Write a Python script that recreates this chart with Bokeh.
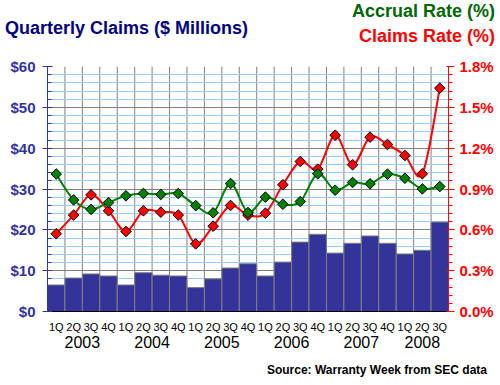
import numpy as np
from bokeh.plotting import figure
from bokeh.layouts import column
from bokeh.models import (FactorRange, Range1d, LinearAxis, SingleIntervalTicker,
                          FixedTicker, NumeralTickFormatter, PrintfTickFormatter, Div)
from bokeh.embed import file_html
from bokeh.resources import INLINE

years = ["2003"] * 4 + ["2004"] * 4 + ["2005"] * 4 + ["2006"] * 4 + ["2007"] * 4 + ["2008"] * 3
quarters = ["1Q", "2Q", "3Q", "4Q"] * 5 + ["1Q", "2Q", "3Q"]
claims = [6.5, 8.2, 9.2, 8.7, 6.5, 9.5, 8.9, 8.7, 5.85, 8.0, 10.65, 11.7,
          8.7, 12.1, 17.0, 18.9, 14.3, 16.7, 18.5, 16.7, 14.1, 15.0, 21.9]
accrual_rate = [1.01, 0.82, 0.75, 0.80, 0.85, 0.867, 0.86, 0.867, 0.778, 0.725, 0.94, 0.727,
                0.84, 0.788, 0.808, 1.012, 0.891, 0.948, 0.938, 1.009, 0.979, 0.901, 0.918]
claims_rate = [0.571, 0.708, 0.857, 0.740, 0.588, 0.740, 0.730, 0.709, 0.497, 0.627, 0.779, 0.708,
               0.722, 0.931, 1.102, 1.046, 1.295, 1.078, 1.281, 1.227, 1.146, 1.012, 1.641]

title_text = "Quarterly Claims ($ Millions)"
accrual_label = "Accrual Rate (%)"
claims_label = "Claims Rate (%)"
source_text = "Source: Warranty Week from SEC data"

factors = list(zip(years, quarters))
n = len(factors)
FONT = "Liberation Sans"
NAVY = "#333399"

p = figure(x_range=FactorRange(*factors, group_padding=0, factor_padding=0, range_padding=0),
           y_range=Range1d(0, 60), frame_width=401, frame_height=245,
           min_border_left=47, min_border_right=44, min_border_top=20, min_border_bottom=47,
           output_backend="svg", toolbar_location=None, outline_line_color=None,
           background_fill_color="white", border_fill_color="white", margin=0)
p.extra_y_ranges = {"rate": Range1d(0, 1.8)}

# grids
p.xgrid.grid_line_color = None
p.yaxis.ticker = SingleIntervalTicker(interval=10, num_minor_ticks=5)
p.ygrid.grid_line_color = "#808080"
p.ygrid.minor_grid_line_color = "#99CCFF"

# vertical grid lines at category boundaries
bounds = list(range(n + 1))
p.segment(x0=bounds, y0=[0] * len(bounds), x1=bounds, y1=[60] * len(bounds),
          line_color="#808080", line_width=1, level="underlay")

# bars
p.vbar(x=factors, top=claims, width=1, fill_color=NAVY, line_color="#808080", line_width=1)

def bezier_parts(vals):
    xs = [i + 0.5 for i in range(len(vals))]
    m = len(vals)
    out = dict(x0=[], y0=[], x1=[], y1=[], cx0=[], cy0=[], cx1=[], cy1=[])
    for i in range(m - 1):
        a = max(i - 1, 0)
        d = min(i + 2, m - 1)
        out["x0"].append(xs[i]); out["y0"].append(vals[i])
        out["x1"].append(xs[i + 1]); out["y1"].append(vals[i + 1])
        out["cx0"].append(xs[i] + (xs[i + 1] - xs[a]) / 6)
        out["cy0"].append(vals[i] + (vals[i + 1] - vals[a]) / 6)
        out["cx1"].append(xs[i + 1] - (xs[d] - xs[i]) / 6)
        out["cy1"].append(vals[i + 1] - (vals[d] - vals[i]) / 6)
    return out

for vals, col in ((claims_rate, "#FF0000"), (accrual_rate, "#008000")):
    p.bezier(**bezier_parts(vals), line_color=col, line_width=2, y_range_name="rate")
    p.scatter(x=factors, y=vals, marker="square", angle=np.pi / 4, size=7.5,
              fill_color=col, line_color="black", line_width=1, y_range_name="rate")

# left axis
ya = p.yaxis[0]
ya.formatter = NumeralTickFormatter(format="$0")
ya.axis_line_color = NAVY
ya.major_tick_line_color = NAVY
ya.minor_tick_line_color = NAVY
ya.major_tick_out = 5
ya.major_tick_in = 5
ya.minor_tick_in = 4
ya.minor_tick_out = 0
ya.major_label_text_color = NAVY
ya.major_label_text_font = FONT
ya.major_label_text_font_style = "bold"
ya.major_label_text_font_size = "15px"
ya.major_label_standoff = 7

# right axis
rticks = [round(0.3 * k, 2) for k in range(7)]
rminor = [round(0.06 * k, 2) for k in range(31)]
ra = LinearAxis(y_range_name="rate", ticker=FixedTicker(ticks=rticks, minor_ticks=rminor),
                formatter=PrintfTickFormatter(format="%.1f%%"))
ra.axis_line_color = "#FF0000"
ra.major_tick_line_color = "#FF0000"
ra.minor_tick_line_color = "#FF0000"
ra.major_tick_out = 6
ra.major_tick_in = 2
ra.minor_tick_out = 4
ra.minor_tick_in = 0
ra.major_label_text_color = "#FF0000"
ra.major_label_text_font = FONT
ra.major_label_text_font_style = "bold"
ra.major_label_text_font_size = "15px"
ra.major_label_standoff = 5
p.add_layout(ra, "right")

# x axis
xa = p.xaxis[0]
xa.axis_line_color = "black"
xa.major_tick_line_color = None
xa.minor_tick_line_color = None
xa.major_tick_out = 9
xa.major_tick_in = 0
xa.major_label_text_font = FONT
xa.major_label_text_font_size = "11px"
xa.major_label_text_color = "black"
xa.major_label_standoff = 0
xa.group_text_font = FONT
xa.group_text_font_size = "16px"
xa.group_text_color = "black"
xa.group_text_font_style = "normal"
xa.separator_line_color = None

span = "position:absolute;white-space:nowrap;font-family:'Liberation Sans';font-weight:bold;"
header = Div(text=(
    f'<div style="position:relative;width:500px;height:46px;">'
    f'<span style="{span}left:5px;top:19px;font-size:18px;line-height:18px;color:#000080;">{title_text}</span>'
    f'<span style="{span}right:5px;top:1.5px;font-size:18px;line-height:18px;color:#006600;">{accrual_label}</span>'
    f'<span style="{span}right:5px;top:26.5px;font-size:18px;line-height:18px;color:#FF0000;">{claims_label}</span>'
    f'</div>'), width=500, height=46, margin=0)
footer = Div(text=(
    f'<div style="position:relative;width:500px;height:24px;">'
    f'<span style="{span}right:13px;top:6px;font-size:12px;line-height:12px;color:black;">{source_text}</span>'
    f'</div>'), width=500, height=24, margin=0)

layout = column(header, p, footer, spacing=0, margin=0)
open("out.html", "w").write(file_html(layout, INLINE))
